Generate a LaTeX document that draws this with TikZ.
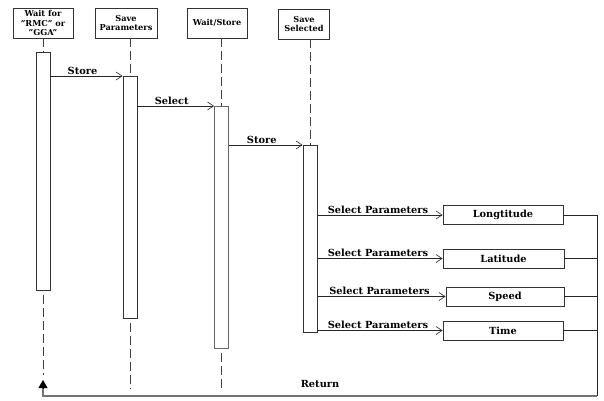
\documentclass[tikz,border=0pt]{standalone}
\usepackage{fontspec}
\setmainfont{DejaVu Serif}
\usetikzlibrary{arrows.meta}
\begin{document}
\begin{tikzpicture}[x=1pt,y=-1pt,
  head/.style={draw=black!80,line width=0.9pt,fill=white,align=center,inner sep=1pt,
    font=\fontsize{8.2}{9.5}\selectfont\bfseries,minimum height=30pt},
  bar/.style={draw=black!80,line width=0.9pt,fill=white,minimum width=14pt,anchor=north,inner sep=0pt},
  lifeline/.style={draw=black!75,line width=0.9pt,dash pattern=on 9pt off 4pt},
  msg/.style={draw=black!85,line width=0.8pt,-{Straight Barb[length=6pt,width=8pt,line width=0.6pt]}},
  lab/.style={font=\fontsize{9.8}{11}\selectfont\bfseries,inner sep=1pt},
  pbox/.style={draw=black!80,line width=0.9pt,fill=white,minimum height=19pt,
    font=\fontsize{9.8}{11}\selectfont\bfseries,inner sep=0pt}]
\useasboundingbox[fill=white] (0,0) rectangle (604,400);

% headers
\node[head,minimum width=60pt] (h1) at (43,23) {Wait for\\"RMC" or\\"GGA"};
\node[head,minimum width=62pt] (h2) at (126,23) {Save\\Parameters};
\node[head,minimum width=60pt] (h3) at (217,23) {Wait/Store};
\node[head,minimum width=51pt] (h4) at (304,24) {Save\\Selected};

% activation bars
\node[bar,minimum height=238pt] (a1) at (43,52) {};
\node[bar,minimum height=242pt] (a2) at (130,76) {};
\node[bar,minimum height=242pt,draw=black!60] (a3) at (221.5,106) {};
\node[bar,minimum height=187pt] (a4) at (310,145) {};

% lifelines
\draw[lifeline] (h1.south -| a1.north) -- (a1.north);
\draw[lifeline] (h2.south -| a2.north) -- (a2.north);
\draw[lifeline] (h3.south -| a3.north) -- (a3.north);
\draw[lifeline] (h4.south -| a4.north) -- (a4.north);
\coordinate (e1) at (43,375);
\coordinate (e2) at (130,388);
\coordinate (e3) at (221.5,389);
\draw[lifeline] ([yshift=-4pt]a1.south) -- (e1);
\draw[lifeline] ([yshift=-4pt]a2.south) -- (e2);
\draw[lifeline] ([yshift=-4pt]a3.south) -- (e3);

% messages
\draw[msg] (a1.north east |- a2.north) -- node[lab,above,xshift=-4pt] {Store} (a2.north west);
\draw[msg] (a2.north east |- a3.north) -- node[lab,above,xshift=-4pt] {Select} (a3.north west);
\draw[msg] (a3.north east |- a4.north) -- node[lab,above,xshift=-4pt] {Store} (a4.north west);

% parameter boxes
\node[pbox,minimum width=120pt] (lon) at (503,215) {Longtitude};
\node[pbox,minimum width=121pt] (lat) at (503.5,258.5) {Latitude};
\node[pbox,minimum width=118pt] (spd) at (505,296.5) {Speed};
\node[pbox,minimum width=120pt] (tim) at (503,330.5) {Time};

\foreach \b in {lon,lat,spd,tim}{
  \draw[msg] (a4.east |- \b.west) -- node[lab,above,xshift=-2pt] {Select Parameters} (\b.west);
}

% return path
\coordinate (rt) at (597,215);
\coordinate (rb) at (597,396);
\coordinate (lb) at (43,396);
\coordinate (tip) at (43,380);
\foreach \b in {lon,lat,spd,tim}{
  \draw[black!85,line width=0.8pt] (\b.east) -- (\b.east -| rt);
}
\draw[black!85,line width=0.9pt] (rt) -- (rb);
\draw[black!55,line width=1.6pt] (rb) -- (lb) -- ([yshift=-6pt]tip);
\draw[black,line width=0.9pt,-{Triangle[length=8pt,width=9pt]}] ([yshift=-8pt]tip) -- (tip);
\node[lab] (ret) at (320,384) {Return};
\end{tikzpicture}
\end{document}
